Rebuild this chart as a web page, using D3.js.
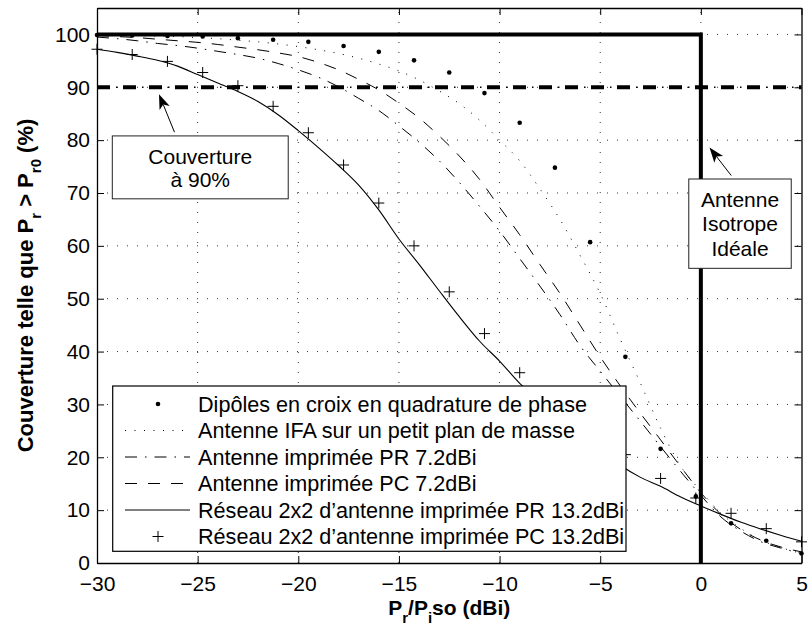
<!DOCTYPE html>
<html><head><meta charset="utf-8">
<script src="https://cdn.jsdelivr.net/npm/d3@7"></script>
<style>
body{margin:0;background:#fff}
svg{display:block}
text{font-family:"Liberation Sans",Arial,Helvetica,sans-serif;fill:#000}
</style>
</head><body>
<svg id="chart" width="810" height="631"></svg>
<script>
// ---------------- data ----------------
const xTicks = [-30, -25, -20, -15, -10, -5, 0, 5];
const yTicks = [0, 10, 20, 30, 40, 50, 60, 70, 80, 90, 100];

const curveX = [-30,-29,-28,-27,-26,-25,-24,-23,-22,-21,-20,-19,-18,-17,-16,-15,-14,-13,-12,-11,-10,-9,-8,-7,-6,-5,-4,-3,-2,-1,0,1,2,3,4,5];
const ifaY      = [99.9,99.9,99.8,99.7,99.6,99.4,99.2,98.9,98.6,98.2,97.7,97.1,96.4,95.5,94.4,93.1,91.4,89.3,86.9,83.8,80.0,76.1,70.8,65.0,58.2,51.0,42.3,34.0,25.5,18.3,13.6,9.4,6.5,4.3,2.9,1.8];
const pr72Y     = [99.5,99.2,98.8,98.3,97.9,97.4,96.8,96.2,95.5,94.5,93.3,91.9,90.1,87.9,85.6,82.7,79.6,76.1,72.0,67.5,62.8,57.6,52.4,47.0,41.1,36.3,31.5,26.8,22.0,17.3,12.8,8.7,6.0,4.0,2.8,1.8];
const pc72Y     = [99.8,99.6,99.4,99.1,98.8,98.5,98.1,97.6,97.1,96.5,95.8,94.7,93.3,91.5,89.5,87.0,84.2,80.8,77.0,72.6,67.3,62.1,56.5,51.0,45.0,39.0,33.5,28.3,23.3,18.2,13.3,9.2,6.3,4.3,3.0,2.1];
const reseauPrY = [97.2,96.6,95.9,95.1,94.0,92.4,90.8,89.2,87.3,84.8,81.8,78.6,75.2,71.5,66.8,61.3,56.5,51.5,46.6,42.0,38.2,34.0,30.8,27.6,24.4,21.4,18.5,16.2,14.5,12.5,10.8,9.2,7.7,6.4,5.2,4.1];

const markerX   = [-30,-28.25,-26.5,-24.75,-23,-21.25,-19.5,-17.75,-16,-14.25,-12.5,-10.75,-9,-7.25,-5.5,-3.75,-2,-0.25,1.5,3.25,5];
const dipolesY  = [99.9,99.8,99.7,99.6,99.3,99.0,98.6,97.8,96.7,95.1,92.8,88.9,83.3,74.8,60.7,39.0,21.6,12.6,7.5,4.2,1.8];
const reseauPcY = [97.2,96.2,94.9,92.8,90.3,86.4,81.4,75.3,68.1,60.0,51.3,43.4,36.0,29.5,24.5,20.5,16.0,12.3,9.4,6.5,4.0];

const isotropeX = [-30, 0, 0];
const isotropeY = [100, 100, 0];
const coverageX = [-30, 5];
const coverageY = [90, 90];

const legendLabels = [
  "Dipôles en croix en quadrature de phase",
  "Antenne IFA sur un petit plan de masse",
  "Antenne imprimée PR 7.2dBi",
  "Antenne imprimée PC 7.2dBi",
  "Réseau 2x2 d’antenne imprimée PR 13.2dBi",
  "Réseau 2x2 d’antenne imprimée PC 13.2dBi"
];
const noteCouverture = ["Couverture", "à 90%"];
const noteIsotrope = ["Antenne", "Isotrope", "Idéale"];

// ---------------- setup ----------------
const svg = d3.select("#chart");
const x = d3.scaleLinear().domain([-30, 5]).range([97, 801.5]);
const y = d3.scaleLinear().domain([0, 105]).range([563, 8]);
const FS = 21;
const LFS = 21.6;

// grid
const grid = svg.append("g");
grid.selectAll("line.gx").data(xTicks.filter(d => d > -30 && d < 5)).join("line")
  .attr("x1", d => x(d)).attr("x2", d => x(d)).attr("y1", y(0)).attr("y2", y(105))
  .attr("stroke", "#333").attr("stroke-width", 1).attr("stroke-dasharray", "1,9");
grid.selectAll("line.gy").data(yTicks.filter(d => d > 0)).join("line")
  .attr("y1", d => y(d)).attr("y2", d => y(d)).attr("x1", x(-30)).attr("x2", x(5))
  .attr("stroke", "#333").attr("stroke-width", 1).attr("stroke-dasharray", "1,9");

const line = d3.line().x(d => x(d[0])).y(d => y(d[1]));
const curve = d3.line().x(d => x(d[0])).y(d => y(d[1])).curve(d3.curveMonotoneX);
const zip = (a, b) => a.map((v, i) => [v, b[i]]);

// reference lines
svg.append("path").datum(zip(isotropeX, isotropeY)).attr("d", line)
  .attr("fill", "none").attr("stroke", "#000").attr("stroke-width", 4).attr("stroke-linejoin", "miter");
svg.append("path").datum(zip(coverageX, coverageY)).attr("d", line)
  .attr("fill", "none").attr("stroke", "#000").attr("stroke-width", 4).attr("stroke-dasharray", "13,13");
svg.append("path").datum(zip(coverageX, coverageY)).attr("d", line)
  .attr("fill", "none").attr("stroke", "#000").attr("stroke-width", 1.5)
  .attr("stroke-dasharray", "1.5,24.5").attr("stroke-dashoffset", 7);

// data curves
const series = [
  {y: ifaY, dash: "1,8.5", w: 1},
  {y: pr72Y, dash: "12,8,1.5,8", w: 1},
  {y: pc72Y, dash: "12,11", w: 1},
  {y: reseauPrY, dash: null, w: 1.1}
];
series.forEach(s => {
  svg.append("path").datum(zip(curveX, s.y)).attr("d", curve)
    .attr("fill", "none").attr("stroke", "#000").attr("stroke-width", s.w)
    .attr("stroke-dasharray", s.dash);
});

// markers
svg.append("g").selectAll("circle").data(zip(markerX, dipolesY)).join("circle")
  .attr("cx", d => x(d[0])).attr("cy", d => y(d[1])).attr("r", 2.3).attr("fill", "#000");
const plusPath = "M-5.5,0H5.5M0,-5.5V5.5";
svg.append("g").selectAll("path").data(zip(markerX, reseauPcY)).join("path")
  .attr("transform", d => `translate(${x(d[0])},${y(d[1])})`)
  .attr("d", plusPath).attr("stroke", "#000").attr("stroke-width", 1).attr("fill", "none");

// axes
function styleAxis(g) {
  g.selectAll("path.domain").attr("stroke", "#000").attr("stroke-width", 1.3);
  g.selectAll(".tick line").attr("stroke", "#000").attr("stroke-width", 1);
  g.selectAll("text").attr("font-size", FS).attr("font-family", "Liberation Sans, Arial, sans-serif");
}
svg.append("g").attr("transform", `translate(0,${y(0)})`)
  .call(d3.axisBottom(x).tickValues(xTicks).tickSize(-7).tickSizeOuter(0).tickPadding(13)).call(styleAxis);
svg.append("g").attr("transform", `translate(0,${y(105)})`)
  .call(d3.axisTop(x).tickValues(xTicks).tickSize(-7).tickSizeOuter(0).tickFormat("")).call(styleAxis);
svg.append("g").attr("transform", `translate(${x(-30)},0)`)
  .call(d3.axisLeft(y).tickValues(yTicks).tickSize(-7).tickSizeOuter(0).tickPadding(7)).call(styleAxis);
svg.append("g").attr("transform", `translate(${x(5)},0)`)
  .call(d3.axisRight(y).tickValues(yTicks).tickSize(-7).tickSizeOuter(0).tickFormat("")).call(styleAxis);

// axis titles
const xl = svg.append("text").attr("x", (x(-30) + x(5)) / 2).attr("y", 615)
  .attr("text-anchor", "middle").attr("font-size", FS).attr("font-weight", "bold");
xl.append("tspan").text("P");
xl.append("tspan").attr("font-size", 15).attr("dy", 8).text("r");
xl.append("tspan").attr("dy", -8).text("/P");
xl.append("tspan").attr("font-size", 15).attr("dy", 8).text("i");
xl.append("tspan").attr("dy", -8).text("so (dBi)");

const yl = svg.append("text").attr("transform", `translate(33,${(y(0) + y(105)) / 2}) rotate(-90)`)
  .attr("text-anchor", "middle").attr("font-size", 22).attr("font-weight", "bold");
yl.append("tspan").text("Couverture telle que P");
yl.append("tspan").attr("font-size", 15).attr("dy", 8).text("r");
yl.append("tspan").attr("dy", -8).text(" > P");
yl.append("tspan").attr("font-size", 15).attr("dy", 8).text("r0");
yl.append("tspan").attr("dy", -8).text(" (%)");

// annotations (positions in data coordinates)
function arrow(tail, tip) {
  const x0 = x(tail[0]), y0 = y(tail[1]), x1 = x(tip[0]), y1 = y(tip[1]);
  const a = Math.atan2(y1 - y0, x1 - x0);
  const L = 15, W = 5.5;
  const ca = Math.cos(a), sa = Math.sin(a);
  const pt = (u, v) => [x1 + u * ca - v * sa, y1 + u * sa + v * ca];
  const nb = pt(-L * 0.75, 0);
  svg.append("line").attr("x1", x0).attr("y1", y0).attr("x2", nb[0]).attr("y2", nb[1])
    .attr("stroke", "#000").attr("stroke-width", 1);
  const p = [pt(0, 0), pt(-L, -W), nb, pt(-L, W)];
  svg.append("path").attr("d", "M" + p.map(q => q.join(",")).join("L") + "Z").attr("fill", "#000");
}
function noteBox(x0, x1, y0, y1, lines, firstBaseline, step) {
  svg.append("rect").attr("x", x(x0)).attr("y", y(y0)).attr("width", x(x1) - x(x0)).attr("height", y(y1) - y(y0))
    .attr("fill", "#fff").attr("stroke", "#222").attr("stroke-width", 1);
  svg.append("g").selectAll("text").data(lines).join("text")
    .attr("x", (x(x0) + x(x1)) / 2).attr("y", (d, i) => firstBaseline + i * step)
    .attr("text-anchor", "middle").attr("font-size", FS).text(d => d);
}
arrow([-26.15, 81.5], [-26.92, 88.7]);
noteBox(-29.24, -20.5, 80.8, 68.9, noteCouverture, 163.5, 23.5);
arrow([1.51, 73.3], [0.43, 78.6]);
noteBox(-0.6, 4.49, 72.65, 55.75, noteIsotrope, 206.8, 24.5);

// legend
const lg = svg.append("g");
const LX = 112.7, LY = 386, LW = 513.3, LH = 165.3;
lg.append("rect").attr("x", LX).attr("y", LY).attr("width", LW).attr("height", LH)
  .attr("fill", "#fff").attr("stroke", "#000").attr("stroke-width", 1.2);
const rowY = i => 404 + i * 26.5;
lg.selectAll("text").data(legendLabels).join("text")
  .attr("x", 198).attr("y", (d, i) => rowY(i) + 7.6).attr("font-size", LFS).text(d => d);
lg.append("circle").attr("cx", 158).attr("cy", rowY(0)).attr("r", 2.3).attr("fill", "#000");
[[1, "1,8.5"], [2, "12,8,1.5,8"], [3, "12,11"], [4, null]].forEach(([i, dash]) => {
  lg.append("line").attr("x1", 125).attr("x2", 190).attr("y1", rowY(i)).attr("y2", rowY(i))
    .attr("stroke", "#000").attr("stroke-width", 1).attr("stroke-dasharray", dash);
});
lg.append("path").attr("transform", `translate(158,${rowY(5)})`).attr("d", plusPath)
  .attr("stroke", "#000").attr("stroke-width", 1);
</script>
</body></html>
